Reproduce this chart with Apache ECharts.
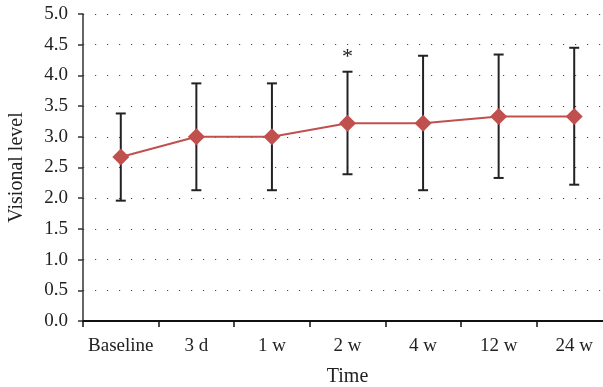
<!DOCTYPE html>
<html>
<head>
<meta charset="utf-8">
<script src="https://cdn.jsdelivr.net/npm/echarts@6/dist/echarts.min.js"></script>
<style>
  html, body { margin: 0; padding: 0; background: #fff; overflow: hidden; }
  #main { width: 603px; height: 387px; }
</style>
</head>
<body>
<div id="main"></div>
<script>
const categories = ['Baseline', '3 d', '1 w', '2 w', '4 w', '12 w', '24 w'];
const means = [2.67, 3.0, 3.0, 3.22, 3.22, 3.33, 3.33];
const lower = [1.96, 2.13, 2.13, 2.39, 2.13, 2.33, 2.22];
const upper = [3.38, 3.87, 3.87, 4.06, 4.32, 4.34, 4.45];
const marks = ['', '', '', '*', '', '', ''];

const chart = echarts.init(document.getElementById('main'));
const font = '"Liberation Serif", "DejaVu Serif", serif';

const errData = categories.map((c, i) => [i, lower[i], upper[i], marks[i]]);

const option = {
  animation: false,
  textStyle: { fontFamily: font },
  grid: { left: 83, top: 14, width: 529, height: 307, outerBoundsMode: 'none', containLabel: false },
  xAxis: {
    type: 'category',
    data: categories,
    boundaryGap: true,
    name: 'Time',
    nameLocation: 'middle',
    nameGap: 46,
    nameTextStyle: { color: '#222', fontSize: 20, fontFamily: font },
    axisLine: { lineStyle: { color: '#111', width: 2 } },
    axisTick: { show: true, length: 6, lineStyle: { color: '#111', width: 1.5 } },
    axisLabel: { color: '#222', fontSize: 19, margin: 16, fontFamily: font, interval: 0 }
  },
  yAxis: {
    type: 'value',
    min: 0,
    max: 5,
    interval: 0.5,
    name: 'Visional level',
    nameLocation: 'middle',
    nameGap: 56,
    nameTextStyle: { color: '#222', fontSize: 20, fontFamily: font },
    axisLine: { show: true, lineStyle: { color: '#333', width: 1.5 } },
    axisTick: { show: true, length: 5, lineStyle: { color: '#333', width: 1.5 } },
    axisLabel: {
      color: '#222', fontSize: 19, margin: 15, fontFamily: font,
      formatter: v => v.toFixed(1)
    },
    splitLine: {
      show: true,
      lineStyle: { color: '#444', width: 1, type: [1.2, 10.8] }
    }
  },
  series: [
    {
      type: 'custom',
      z: 3,
      data: errData,
      renderItem: (params, api) => {
        const x = api.value(0);
        const lo = api.coord([x, api.value(1)]);
        const hi = api.coord([x, api.value(2)]);
        const hw = 5;
        const style = { stroke: '#222', lineWidth: 2 };
        const children = [
          { type: 'line', shape: { x1: lo[0], y1: lo[1], x2: hi[0], y2: hi[1] }, style: style },
          { type: 'line', shape: { x1: lo[0] - hw, y1: lo[1], x2: lo[0] + hw, y2: lo[1] }, style: style },
          { type: 'line', shape: { x1: hi[0] - hw, y1: hi[1], x2: hi[0] + hw, y2: hi[1] }, style: style }
        ];
        const m = api.value(3);
        if (m) {
          children.push({
            type: 'text',
            style: {
              text: m, x: hi[0], y: hi[1] - 3, align: 'center', verticalAlign: 'bottom',
              fill: '#222', font: '22px ' + font
            }
          });
        }
        return { type: 'group', children: children };
      }
    },
    {
      type: 'line',
      z: 4,
      data: means,
      symbol: 'diamond',
      symbolSize: 17,
      lineStyle: { color: '#c0504d', width: 2 },
      itemStyle: { color: '#c0504d' }
    }
  ]
};

chart.setOption(option);
</script>
</body>
</html>
